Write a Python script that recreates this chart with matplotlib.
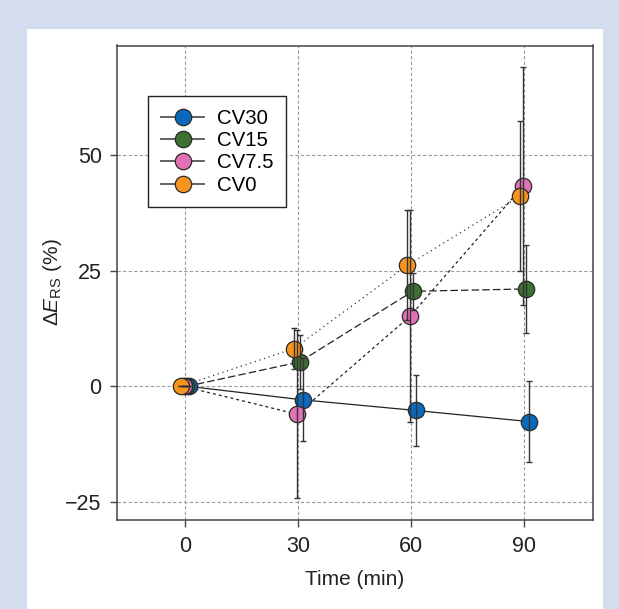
import matplotlib
matplotlib.use("Agg")
import matplotlib.pyplot as plt
from matplotlib.lines import Line2D
import numpy as np

plt.rcParams['font.family'] = ['Liberation Sans', 'DejaVu Sans']
plt.rcParams['mathtext.fontset'] = 'custom'
plt.rcParams['mathtext.rm'] = 'Liberation Sans'
plt.rcParams['mathtext.it'] = 'Liberation Sans:italic'
plt.rcParams['mathtext.bf'] = 'Liberation Sans:bold'

# ---- data ----
times = [0, 30, 60, 90]
series = ["CV30", "CV15", "CV7.5", "CV0"]
cv30 = [0.0, -2.9, -5.2, -7.6]
cv30_err = [0.0, 9.0, 7.6, 8.7]
cv15 = [0.0, 5.3, 20.6, 21.1]
cv15_err = [0.0, 5.8, 4.0, 9.6]
cv75 = [0.0, -6.0, 15.2, 43.4]
cv75_err = [0.0, 18.2, 22.9, 25.7]
cv0 = [0.0, 8.2, 26.2, 41.2]
cv0_err = [0.0, 4.4, 11.9, 16.3]
x_offsets = [1.2, 0.4, -0.3, -1.1]
colors = ["#0b69bd", "#3d7033", "#e272b5", "#f7941e"]
dashes = [None, (6, 2.5), (2.4, 2.4), (0.9, 3.0)]

values = [cv30, cv15, cv75, cv0]
errors = [cv30_err, cv15_err, cv75_err, cv0_err]

fig = plt.figure(figsize=(6.19, 6.09), dpi=100)
fig.patch.set_facecolor("#d4ddee")
bg = fig.add_axes([27 / 619, 0, (603 - 27) / 619, 1 - 29 / 609], zorder=0)
bg.set_facecolor("white")
bg.set_xticks([])
bg.set_yticks([])
for s in bg.spines.values():
    s.set_visible(False)

ax = fig.add_axes([117 / 619, 1 - 519.5 / 609, (593 - 117) / 619, (519.5 - 45.5) / 609], zorder=2)
ax.set_facecolor("white")

for name, vals, errs, off, col, dsh in zip(series, values, errors, x_offsets, colors, dashes):
    xs = np.array(times, dtype=float) + off
    line, = ax.plot(xs, vals, color="#222222", lw=0.9, zorder=2)
    if dsh is not None:
        line.set_dashes(dsh)
    ax.plot(xs, vals, linestyle="none", marker="o", ms=11.8, mfc=col,
            mec="#2a2a2a", mew=0.9, zorder=3)
    ax.errorbar(xs, vals, yerr=errs, fmt="none", ecolor="#333333",
                elinewidth=1.0, capsize=2.2, capthick=1.0, zorder=4)

ax.set_xlim(-18, 108.2)
ax.set_ylim(-28.8, 73.8)
ax.set_xticks(times)
ax.set_yticks([-25, 0, 25, 50])
ax.set_yticklabels(["\u221225", "0", "25", "50"])
ax.grid(True, color="#9a9a9a", linestyle=(0, (3, 2)), linewidth=0.8)
ax.set_axisbelow(True)
for s in ax.spines.values():
    s.set_color("#444444")
    s.set_linewidth(1.1)
ax.tick_params(axis="both", direction="out", length=5, width=1.0,
               color="#444444", labelsize=15.5, labelcolor="#222222")
ax.tick_params(axis="x", pad=7)
ax.tick_params(axis="y", pad=6)

ax.set_xlabel("Time (min)", fontsize=15, color="#222222", labelpad=9)
ax.set_ylabel(r"$\Delta\mathit{E}_{\mathrm{RS}}$ (%)", fontsize=15,
              color="#222222", labelpad=1)

handles = [Line2D([0], [0], color="#555555", lw=1.3, marker="o", ms=11.8,
                  mfc=c, mec="#2a2a2a", mew=0.9) for c in colors]
leg = ax.legend(handles, series, loc="upper left", bbox_to_anchor=(0.065, 0.893),
                borderaxespad=0, fontsize=14.7, frameon=True, fancybox=False,
                handlelength=2.15, handletextpad=0.6, labelspacing=0.16,
                borderpad=0.62)
leg.get_frame().set_edgecolor("#222222")
leg.get_frame().set_linewidth(1.0)
leg.get_frame().set_alpha(1)

fig.savefig("out.png", dpi=100, facecolor=fig.get_facecolor())
